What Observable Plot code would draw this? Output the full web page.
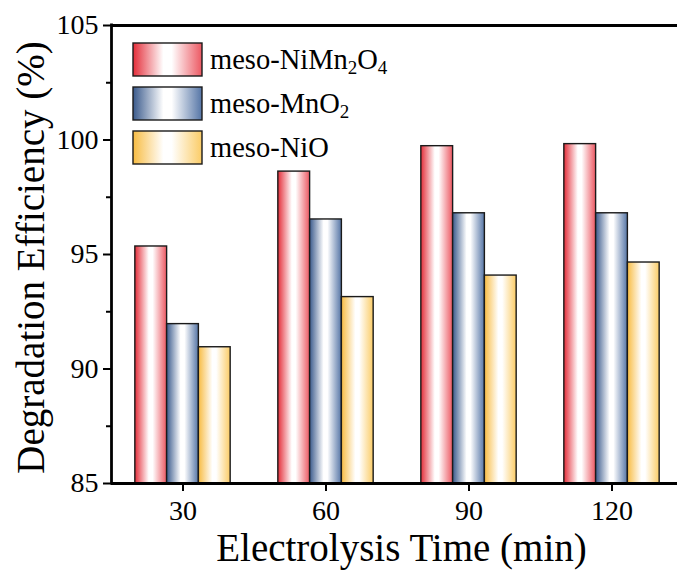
<!DOCTYPE html>
<html>
<head>
<meta charset="utf-8">
<script src="https://cdn.jsdelivr.net/npm/d3@7"></script>
<script src="https://cdn.jsdelivr.net/npm/@observablehq/plot@0.6"></script>
<style>
  html, body { margin: 0; padding: 0; background: #fff; }
  #chart { width: 677px; height: 572px; }
  #chart svg text { font-family: "Liberation Serif", "Times New Roman", serif; font-variant-numeric: normal; }
</style>
</head>
<body>
<div id="chart"></div>
<script>
// ---- data ----
const times = [30, 60, 90, 120];
const seriesNames = ["meso-NiMn2O4", "meso-MnO2", "meso-NiO"];
const niMn2O4 = [95.35, 98.62, 99.73, 99.82];
const mnO2 = [91.96, 96.53, 96.80, 96.80];
const niO = [90.95, 93.14, 94.08, 94.65];
const yTicks = [85, 90, 95, 100, 105];
const yMinorTicks = [87.5, 92.5, 97.5, 102.5];
const yDomain = [85, 105];
const xDomain = [15, 135];

const seriesValues = [niMn2O4, mnO2, niO];
const gradIds = ["gRed", "gBlue", "gYellow"];
const groupWidth = 20; // in minutes
const table = seriesValues.map((vals, k) =>
  times.map((t, i) => ({time: t, k, value: vals[i], series: seriesNames[k]})));

const font = "Liberation Serif";

const bars = table.map((rows, k) => Plot.rectY(rows, {
  x1: d => d.time - groupWidth / 2 + d.k * groupWidth / 3,
  x2: d => d.time - groupWidth / 2 + (d.k + 1) * groupWidth / 3,
  y1: () => yDomain[0],
  y2: "value",
  fill: `url(#${gradIds[k]})`,
  stroke: "#1a1a1a",
  strokeWidth: 1.4
}));

const chart = Plot.plot({
  width: 677,
  height: 572,
  marginLeft: 111,
  marginTop: 25,
  marginBottom: 89,
  marginRight: 0,
  style: {fontFamily: font, color: "#000", background: "#fff"},
  x: {type: "linear", domain: xDomain, range: [111, 683]},
  y: {domain: yDomain},
  marks: [
    ...bars,
    Plot.axisY({ticks: yTicks, tickSize: 8, tickPadding: 5, fontSize: 28, fontFamily: font, tickFormat: d => d, label: null, strokeWidth: 2, color: "#000"}),
    Plot.axisY({ticks: yMinorTicks, tickSize: 5, tickFormat: () => "", label: null, strokeWidth: 2}),
    Plot.axisX({ticks: times, tickSize: 8, tickPadding: 9, fontSize: 28, fontFamily: font, tickFormat: d => d, label: null, strokeWidth: 2}),
    Plot.ruleY([yDomain[0]], {stroke: "#000", strokeWidth: 2.8}),
    Plot.ruleY([yDomain[1]], {stroke: "#000", strokeWidth: 2.8}),
    Plot.ruleX([xDomain[0]], {stroke: "#000", strokeWidth: 2.8, strokeLinecap: "square"}),
    Plot.text(["Degradation Efficiency (%)"], {frameAnchor: "left", textAnchor: "middle", lineAnchor: "middle", rotate: -90, dx: -80, dy: 3, fontSize: 39, fontFamily: font, fill: "#000"}),
    Plot.text(["Electrolysis Time (min)"], {frameAnchor: "bottom", textAnchor: "middle", lineAnchor: "middle", dx: 7, dy: 65, fontSize: 39, fontFamily: font, fill: "#000"})
  ]
});

document.getElementById("chart").appendChild(chart);

// gradients
const svg = d3.select(chart);
const defs = svg.insert("defs", ":first-child");
const gradColors = [
  ["#e42d39", "#ec5862"],
  ["#3a5a8c", "#5575a6"],
  ["#f8bc42", "#fbcc66"]
];
gradIds.forEach((id, k) => {
  const g = defs.append("linearGradient").attr("id", id).attr("x1", "0%").attr("x2", "100%").attr("y1", "0%").attr("y2", "0%");
  g.append("stop").attr("offset", "0%").attr("stop-color", gradColors[k][0]);
  g.append("stop").attr("offset", "44%").attr("stop-color", "#ffffff");
  g.append("stop").attr("offset", "56%").attr("stop-color", "#ffffff");
  g.append("stop").attr("offset", "100%").attr("stop-color", gradColors[k][1]);
});

// legend
const legend = svg.append("g")
  .style("font-family", "'Liberation Serif', serif")
  .attr("font-size", 28.5).attr("fill", "#000").attr("text-anchor", "start");
const legendParts = [
  [["meso-NiMn", false], ["2", true], ["O", false], ["4", true]],
  [["meso-MnO", false], ["2", true]],
  [["meso-NiO", false]]
];
legendParts.forEach((parts, k) => {
  const y0 = 43 + k * 44;
  legend.append("rect").attr("x", 133).attr("y", y0).attr("width", 69).attr("height", 33)
    .attr("fill", `url(#${gradIds[k]})`).attr("stroke", "#1a1a1a").attr("stroke-width", 1.4);
  const t = legend.append("text").attr("x", 210).attr("y", y0 + 16.5 + 9).attr("text-anchor", "start");
  parts.forEach(([s, sub]) => {
    const ts = t.append("tspan").text(s);
    if (sub) ts.attr("font-size", 19).attr("baseline-shift", "-25%");
  });
});
</script>
</body>
</html>
